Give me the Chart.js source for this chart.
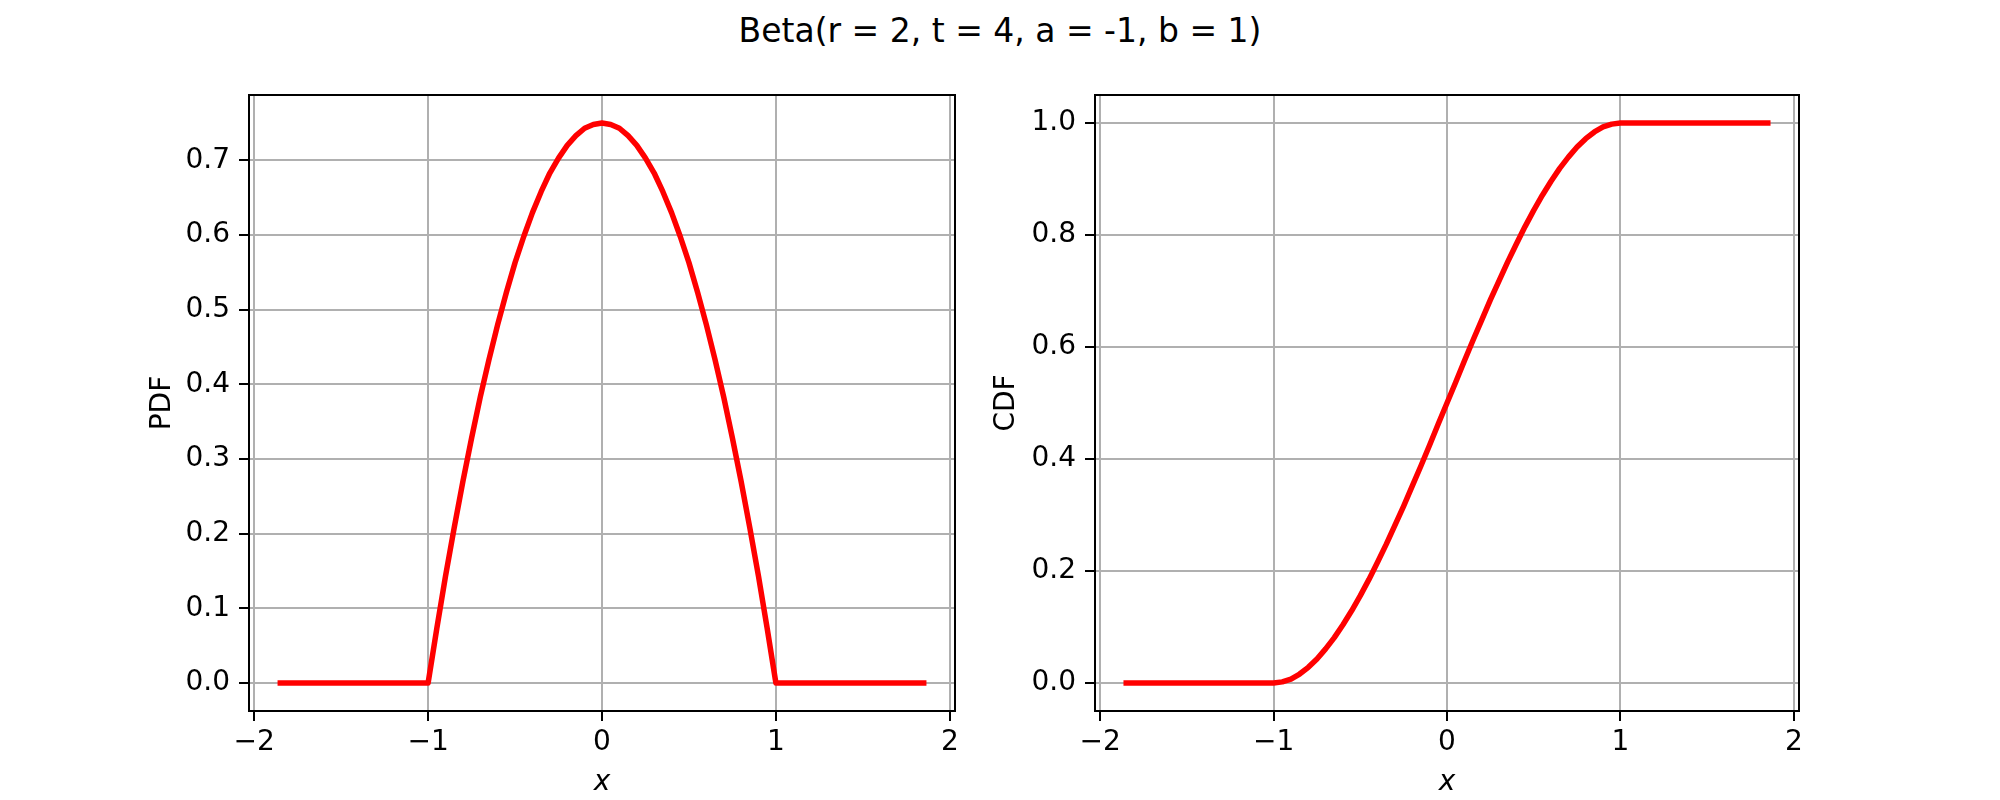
<!DOCTYPE html>
<html>
<head>
<meta charset="utf-8">
<script src="https://cdn.jsdelivr.net/npm/chart.js@4"></script>
<style>
  html, body { margin: 0; padding: 0; background: #fff; }
  body { width: 2000px; height: 800px; position: relative; overflow: hidden; font-family: "DejaVu Sans", sans-serif; }
  #title { position: absolute; left: 0; top: 14px; width: 2000px; text-align: center; font-size: 33px; line-height: 33px; color: #000; }
  .box { position: absolute; top: 0; height: 800px; }
  #leftBox { left: 0; width: 1000px; }
  #rightBox { left: 960px; width: 1040px; }
</style>
</head>
<body>
<div id="title">Beta(r = 2, t = 4, a = -1, b = 1)</div>
<div class="box" id="leftBox"><canvas id="pdfChart"></canvas></div>
<div class="box" id="rightBox"><canvas id="cdfChart"></canvas></div>
<script>
// x positions of the sampled curve
const xValues = [-1.85, -1.0, -0.95, -0.9, -0.85, -0.8, -0.75, -0.7, -0.65, -0.6, -0.55, -0.5, -0.45, -0.4,
  -0.35, -0.3, -0.25, -0.2, -0.15, -0.1, -0.05, 0, 0.05, 0.1, 0.15, 0.2, 0.25, 0.3, 0.35, 0.4, 0.45,
  0.5, 0.55, 0.6, 0.65, 0.7, 0.75, 0.8, 0.85, 0.9, 0.95, 1.0, 1.85];

const pdfValues = [0, 0, 0.073, 0.143, 0.208, 0.270, 0.328, 0.383, 0.433, 0.480, 0.523, 0.563, 0.598, 0.630,
  0.658, 0.683, 0.703, 0.720, 0.733, 0.743, 0.748, 0.750, 0.748, 0.743, 0.733, 0.720, 0.703, 0.683, 0.658, 0.630, 0.598,
  0.563, 0.523, 0.480, 0.433, 0.383, 0.328, 0.270, 0.208, 0.143, 0.073, 0, 0];

const cdfValues = [0, 0, 0.002, 0.007, 0.016, 0.028, 0.043, 0.061, 0.081, 0.104, 0.129, 0.156, 0.185, 0.216,
  0.248, 0.282, 0.316, 0.352, 0.388, 0.425, 0.463, 0.500, 0.537, 0.575, 0.612, 0.648, 0.684, 0.718, 0.752, 0.784, 0.815,
  0.844, 0.871, 0.896, 0.919, 0.939, 0.957, 0.972, 0.984, 0.993, 0.998, 1.000, 1.000];

const xTicks = [-2, -1, 0, 1, 2];
const pdfTicks = [0.0, 0.1, 0.2, 0.3, 0.4, 0.5, 0.6, 0.7];
const cdfTicks = [0.0, 0.2, 0.4, 0.6, 0.8, 1.0];

const FONT = "'DejaVu Sans', sans-serif";
const GRID = '#b0b0b0';

function points(ys) {
  return xValues.map((x, i) => ({ x: x, y: ys[i] }));
}

function fmtX(v) {
  return v < 0 ? '\u2212' + Math.abs(v) : String(v);
}

// draws the full axes frame (top/right spines too)
const framePlugin = {
  id: 'frame',
  afterDraw(chart) {
    const a = chart.chartArea;
    const ctx = chart.ctx;
    ctx.save();
    ctx.strokeStyle = '#000';
    ctx.lineWidth = 2;
    ctx.strokeRect(a.left, a.top, a.right - a.left, a.bottom - a.top);
    ctx.restore();
  }
};

function makeChart(id, ys, yTicks, yMin, yMax, yLabel, opts) {
  const ctx = document.getElementById(id).getContext('2d');
  return new Chart(ctx, {
    type: 'line',
    data: {
      datasets: [{
        data: points(ys),
        borderColor: '#ff0000',
        borderWidth: 5.5,
        borderJoinStyle: 'round',
        borderCapStyle: 'square',
        pointRadius: 0,
        tension: 0,
        fill: false
      }]
    },
    options: {
      responsive: true,
      maintainAspectRatio: false,
      animation: false,
      events: [],
      layout: { padding: { left: 0, top: 95, right: opts.padRight, bottom: 0 } },
      plugins: { legend: { display: false }, tooltip: { enabled: false } },
      scales: {
        x: {
          type: 'linear',
          min: -2.03,
          max: 2.03,
          afterBuildTicks: s => { s.ticks = xTicks.map(v => ({ value: v })); },
          afterFit: s => { s.height = 89; },
          grid: { color: GRID, lineWidth: 2, tickColor: '#000', tickWidth: 2, tickLength: 10 },
          border: { color: '#000', width: 2 },
          ticks: { color: '#000', font: { family: FONT, size: 28 }, padding: 5, maxRotation: 0, callback: v => fmtX(v) },
          title: { display: true, text: 'x', color: '#000', font: { family: FONT, size: 28, style: 'italic' }, padding: { top: 0, bottom: 0 } }
        },
        y: {
          type: 'linear',
          min: yMin,
          max: yMax,
          afterBuildTicks: s => { s.ticks = yTicks.map(v => ({ value: v })); },
          afterFit: s => { s.width = opts.yWidth; },
          grid: { color: GRID, lineWidth: 2, tickColor: '#000', tickWidth: 2, tickLength: 10 },
          border: { color: '#000', width: 2 },
          ticks: { color: '#000', font: { family: FONT, size: 28 }, padding: 9, callback: v => v.toFixed(1) },
          title: { display: true, text: yLabel, color: '#000', font: { family: FONT, size: 28 }, padding: { top: opts.titlePad, bottom: 0 } }
        }
      }
    },
    plugins: [framePlugin]
  });
}

makeChart('pdfChart', pdfValues, pdfTicks, -0.0375, 0.7875, 'PDF', { padRight: 45, yWidth: 249, titlePad: 146 });
makeChart('cdfChart', cdfValues, cdfTicks, -0.05, 1.05, 'CDF', { padRight: 201, yWidth: 135, titlePad: 30 });
</script>
</body>
</html>
